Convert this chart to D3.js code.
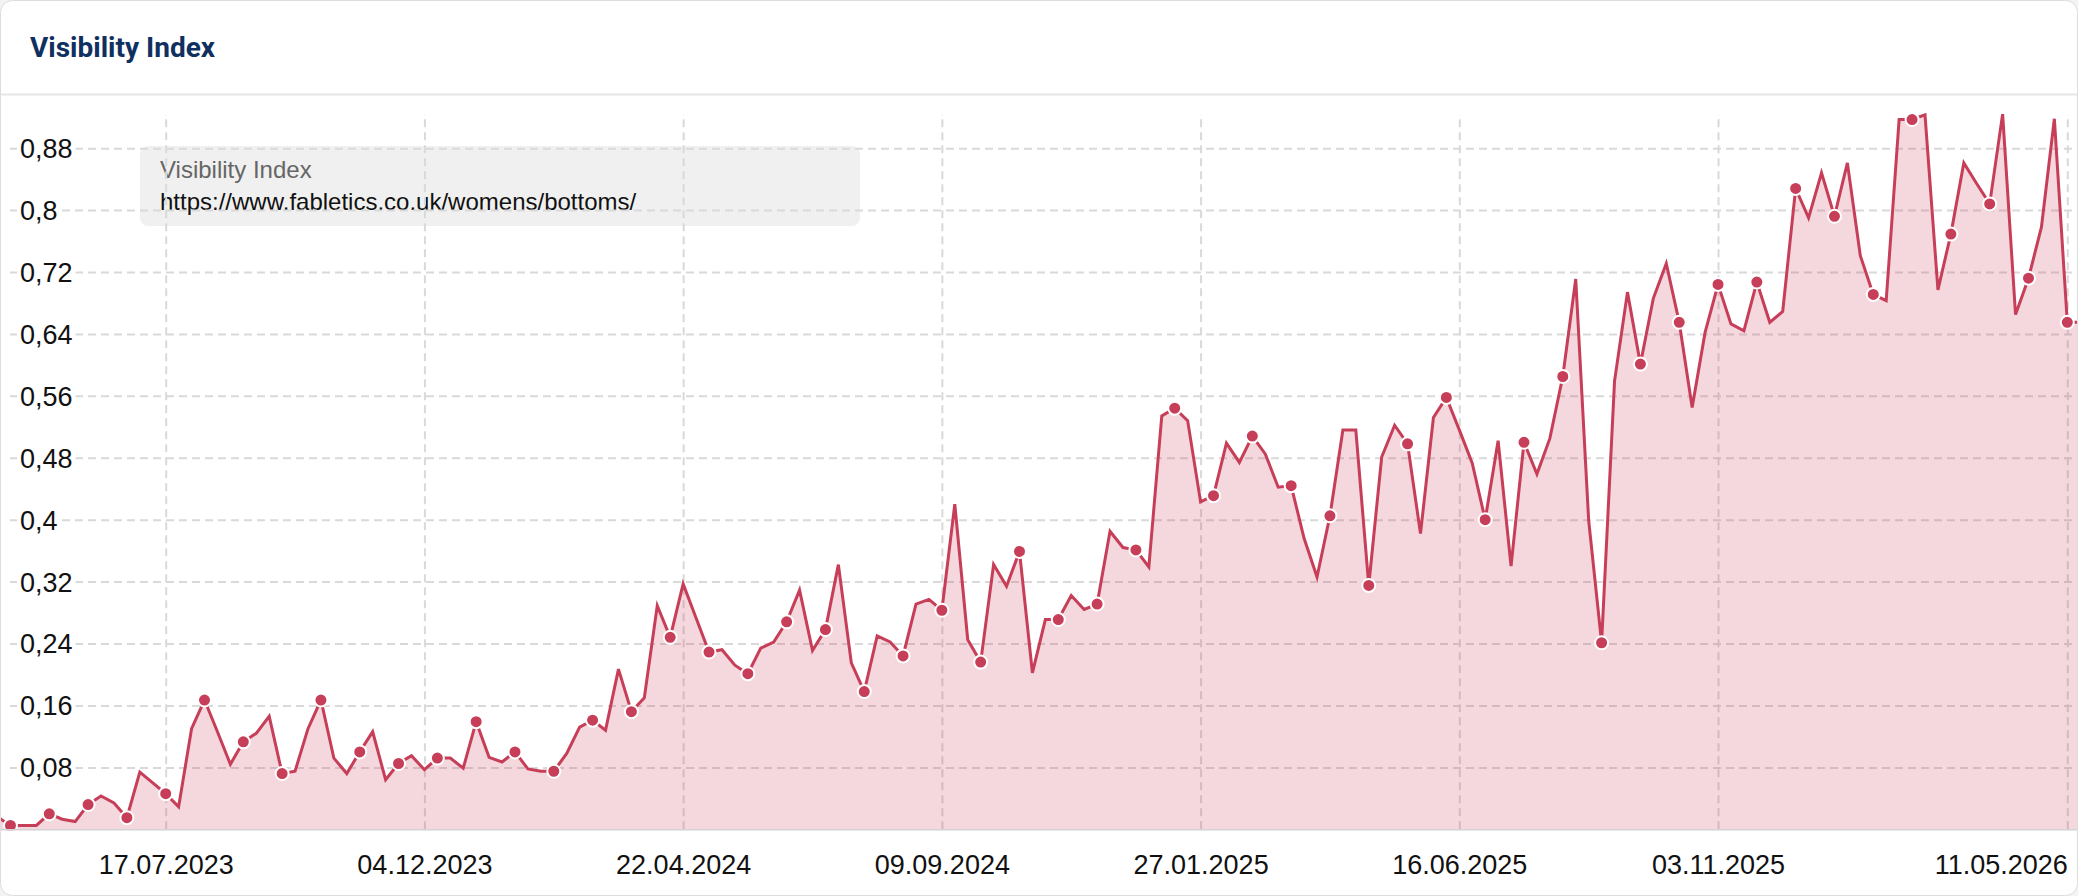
<!DOCTYPE html>
<html><head><meta charset="utf-8">
<script src="https://cdn.jsdelivr.net/npm/d3@7"></script>
<style>
html,body{margin:0;padding:0;background:#f3f3f3;}
svg{display:block;}
</style></head><body>
<svg id="chart" width="2078" height="896"></svg>
<script>
// ---------- data ----------
const chartTitle = "Visibility Index";
const legendTitle = "Visibility Index";
const legendUrl = "https://www.fabletics.co.uk/womens/bottoms/";
const firstWeek = "17.04.2023";           // date of the first weekly value
const values = [
  0.016, 0.005, 0.005, 0.005, 0.020, 0.013, 0.010, 0.032, 0.043, 0.034, 0.015, 0.074, 0.060,
  0.046, 0.029, 0.130, 0.167, 0.126, 0.084, 0.113, 0.124, 0.146, 0.072, 0.075, 0.130, 0.167, 0.092,
  0.072, 0.100, 0.126, 0.064, 0.085, 0.095, 0.077, 0.092, 0.092, 0.079, 0.139, 0.093, 0.087, 0.100,
  0.078, 0.075, 0.075, 0.098, 0.132, 0.141, 0.128, 0.207, 0.152, 0.170, 0.289, 0.248, 0.317, 0.273,
  0.229, 0.232, 0.212, 0.201, 0.234, 0.242, 0.268, 0.309, 0.231, 0.258, 0.342, 0.215, 0.178, 0.250,
  0.242, 0.224, 0.291, 0.297, 0.283, 0.420, 0.245, 0.216, 0.342, 0.314, 0.359,
  0.202, 0.271, 0.271, 0.302, 0.284, 0.291, 0.385, 0.364, 0.361, 0.339, 0.534, 0.544, 0.528, 0.423,
  0.431, 0.499, 0.474, 0.508, 0.485, 0.442, 0.444, 0.376, 0.326, 0.405, 0.516, 0.516, 0.315, 0.481,
  0.522, 0.498, 0.382, 0.532, 0.558, 0.516, 0.473, 0.400, 0.502, 0.340,
  0.500, 0.459, 0.505, 0.585, 0.711, 0.399, 0.241, 0.579, 0.694, 0.601, 0.686, 0.731, 0.655, 0.545,
  0.642, 0.704, 0.653, 0.644, 0.707, 0.655, 0.669, 0.828, 0.790, 0.848, 0.792, 0.861, 0.741, 0.691,
  0.683, 0.917, 0.917, 0.923, 0.697, 0.769, 0.861, 0.834, 0.808, 0.924, 0.665, 0.712, 0.778, 0.918,
  0.655, 0.655
];
const xTickLabels = ["17.07.2023","04.12.2023","22.04.2024","09.09.2024","27.01.2025","16.06.2025","03.11.2025","11.05.2026"];
const yTickValues = [0.08,0.16,0.24,0.32,0.40,0.48,0.56,0.64,0.72,0.80,0.88];
const yTickLabels = ["0,08","0,16","0,24","0,32","0,4","0,48","0,56","0,64","0,72","0,8","0,88"];
const markerEvery = 3, markerOffset = 1;

// ---------- layout ----------
const W = 2078, H = 896;
const plotTop = 114.1, plotBottom = 829.3;
const lineColor = "#c73e58";
const parse = d3.utcParse("%d.%m.%Y");
const start = parse(firstWeek);
const data = values.map((v, i) => ({date: d3.utcDay.offset(start, 7 * i), v, i}));
const tickDates = xTickLabels.map(parse);

const x = d3.scaleUtc()
  .domain([tickDates[0], tickDates[tickDates.length - 1]])
  .range([165.7, 2067.3]);
const y = d3.scaleLinear().domain([0, d3.max(values)]).range([plotBottom, plotTop]);

const svg = d3.select("#chart");
const defs = svg.append("defs");
defs.append("clipPath").attr("id", "plotclip")
  .append("rect").attr("x", 1).attr("y", 100).attr("width", W - 2).attr("height", plotBottom - 100 + 1);

// card
svg.append("rect").attr("x", 0.5).attr("y", 0.5).attr("width", W - 1).attr("height", H - 1)
  .attr("rx", 12).attr("fill", "#ffffff").attr("stroke", "#dddddd");

// header
svg.append("text").attr("x", 30).attr("y", 57)
  .attr("font-family", "Roboto, 'Noto Sans', sans-serif").attr("font-weight", 700)
  .attr("font-size", 28).attr("fill", "#10305f").text(chartTitle);
svg.append("line").attr("x1", 1).attr("x2", W - 1).attr("y1", 94.5).attr("y2", 94.5)
  .attr("stroke", "#e6e6e6").attr("stroke-width", 2);

// legend box
const lg = svg.append("g");
lg.append("rect").attr("x", 140).attr("y", 146).attr("width", 720).attr("height", 80)
  .attr("rx", 8).attr("fill", "#f0f0f0");
lg.append("text").attr("x", 160).attr("y", 178)
  .attr("font-family", "'Liberation Sans', Arial, sans-serif").attr("font-size", 24)
  .attr("fill", "#666666").text(legendTitle);
lg.append("text").attr("x", 160).attr("y", 210)
  .attr("font-family", "'Liberation Sans', Arial, sans-serif").attr("font-size", 24)
  .attr("fill", "#111111").text(legendUrl);

// horizontal grid
const yGrid = svg.append("g").attr("transform", "translate(10,0)")
  .call(d3.axisRight(y).tickValues(yTickValues).tickSize(W - 12).tickFormat(""));
yGrid.select(".domain").remove();
yGrid.selectAll("line").attr("stroke", "#d9d9d9").attr("stroke-width", 2).attr("stroke-dasharray", "8,5");

// vertical grid
const xGrid = svg.append("g").attr("transform", `translate(0,${plotBottom})`)
  .call(d3.axisBottom(x).tickValues(tickDates).tickSize(-(plotBottom - plotTop)).tickFormat(""));
xGrid.select(".domain").remove();
xGrid.selectAll("line").attr("stroke", "#d9d9d9").attr("stroke-width", 2).attr("stroke-dasharray", "8,5");

// series
const plot = svg.append("g").attr("clip-path", "url(#plotclip)");
plot.append("path").datum(data)
  .attr("d", d3.area().x(d => x(d.date)).y0(y(0)).y1(d => y(d.v)))
  .attr("fill", lineColor).attr("fill-opacity", 0.2);
plot.append("path").datum(data)
  .attr("d", d3.line().x(d => x(d.date)).y(d => y(d.v)))
  .attr("fill", "none").attr("stroke", lineColor).attr("stroke-width", 3).attr("stroke-linejoin", "miter");

// x axis line
svg.append("line").attr("x1", 1).attr("x2", W - 1).attr("y1", plotBottom + 0.5).attr("y2", plotBottom + 0.5)
  .attr("stroke", "#d3d3d3").attr("stroke-width", 1.5);

plot.selectAll("circle.m").data(data.filter(d => d.i % markerEvery === markerOffset))
  .join("circle").attr("class", "m")
  .attr("cx", d => x(d.date)).attr("cy", d => y(d.v)).attr("r", 6.5)
  .attr("fill", lineColor).attr("stroke", "#ffffff").attr("stroke-width", 2);

// y labels
const yLab = svg.append("g").attr("transform", "translate(20,0)")
  .call(d3.axisRight(y).tickValues(yTickValues).tickSize(0).tickPadding(0)
    .tickFormat((d, i) => yTickLabels[i]));
yLab.select(".domain").remove();
yLab.selectAll("text").attr("x", 0).attr("dy", "0.35em").attr("text-anchor", "start")
  .attr("font-family", "'Liberation Sans', Arial, sans-serif").attr("font-size", 27).attr("fill", "#111");
yLab.selectAll(".tick").each(function() {
  const t = d3.select(this).select("text");
  const b = t.node().getBBox();
  d3.select(this).insert("rect", "text").attr("x", b.x - 3).attr("y", b.y)
    .attr("width", b.width + 6).attr("height", b.height).attr("fill", "#fff");
});

// x labels
const xLab = svg.append("g").attr("transform", `translate(0,${plotBottom})`)
  .call(d3.axisBottom(x).tickValues(tickDates).tickSize(0).tickFormat((d, i) => xTickLabels[i]));
xLab.select(".domain").remove();
xLab.selectAll("text").attr("y", 45).attr("dy", 0)
  .attr("font-family", "'Liberation Sans', Arial, sans-serif").attr("font-size", 27).attr("fill", "#111")
  .attr("text-anchor", (d, i) => i === xTickLabels.length - 1 ? "end" : "middle");
</script>
</body></html>
